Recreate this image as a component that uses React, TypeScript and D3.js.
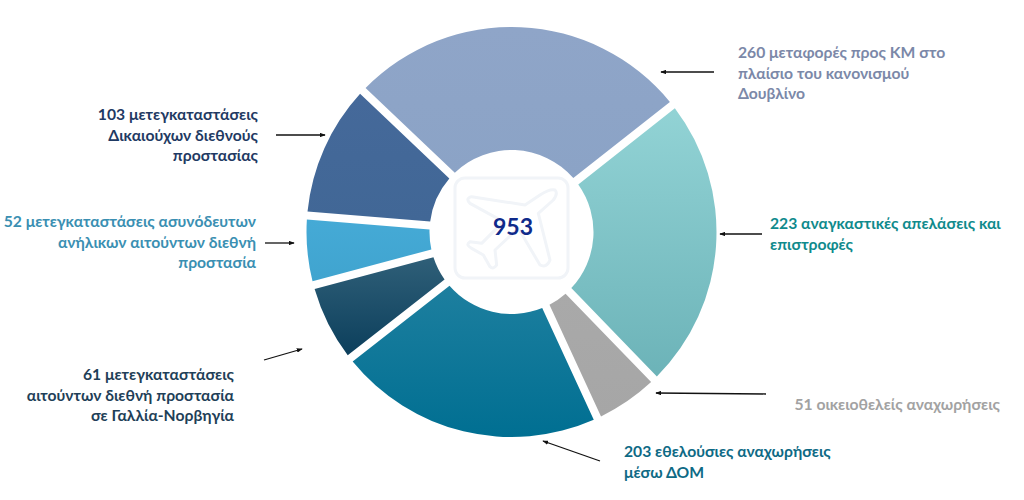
import * as d3 from "d3"

const WIDTH = 1024
const HEIGHT = 500

// Values, clockwise from the upper left slice
const values = [260, 223, 51, 203, 61, 52, 103]
const total = "953"
const labels = [
  ["260 μεταφορές προς ΚΜ στο", "πλαίσιο του κανονισμού", "Δουβλίνο"],
  ["223 αναγκαστικές απελάσεις και", "επιστροφές"],
  ["51 οικειοθελείς αναχωρήσεις"],
  ["203 εθελούσιες αναχωρήσεις", "μέσω ΔΟΜ"],
  ["61 μετεγκαταστάσεις", "αιτούντων διεθνή προστασία", "σε Γαλλία-Νορβηγία"],
  ["52 μετεγκαταστάσεις ασυνόδευτων", "ανήλικων αιτούντων διεθνή", "προστασία"],
  ["103 μετεγκαταστάσεις", "Δικαιούχων διεθνούς", "προστασίας"],
]

const gradientTop = ["#8fa5c8", "#92d3d5", "#a9a9a9", "#1d7f9f", "#2f5f78", "#45aad6", "#45699a"]
const gradientBottom = ["#8ba3c6", "#6cb3b8", "#a6a6a6", "#006f92", "#0c3f5c", "#40a4cf", "#416796"]
const textColors = ["#7b88a8", "#0f8a8c", "#a2a2a2", "#0e6a85", "#1f3f58", "#3a8fb2", "#1f3a63"]

// Label placement: anchor, x, first baseline
const labelPos: [string, number, number][] = [
  ["start", 738, 58],
  ["start", 770, 229],
  ["end", 1000, 410],
  ["start", 624, 457],
  ["end", 234, 380],
  ["end", 256, 227],
  ["end", 258, 120],
]
const arrows = [
  [714, 72, 661, 72],
  [762, 234, 720, 234],
  [766, 394, 656, 393],
  [600, 461, 543, 441],
  [264, 360, 302, 349],
  [265, 243, 294, 243],
  [276, 135, 325, 135],
]

const FONT = "Lato, 'Open Sans', sans-serif"
const cx = 511.5
const cy = 232
const outerR = 205
const innerR = 82
const startAngle = (-46.5 * Math.PI) / 180

export default function App() {
  const pie = d3
    .pie<number>()
    .value((d) => d)
    .sort(null)
    .startAngle(startAngle)
    .endAngle(startAngle + 2 * Math.PI)
  const arc = d3
    .arc<d3.PieArcDatum<number>>()
    .innerRadius(innerR)
    .outerRadius(outerR)
    .padRadius(outerR)
    .padAngle(8 / outerR)
  const arcs = pie(values)

  return (
    <svg
      width={WIDTH}
      height={HEIGHT}
      style={{ position: "absolute", left: 0, top: 0, background: "#fff" }}
    >
      <defs>
        {values.map((_, i) => (
          <linearGradient key={i} id={`slice-${i}`} x1="0" y1="0" x2="0" y2="1">
            <stop offset="0%" stopColor={gradientTop[i]} />
            <stop offset="100%" stopColor={gradientBottom[i]} />
          </linearGradient>
        ))}
        <marker id="head" viewBox="0 0 8 6" refX="7" refY="3" markerWidth="6" markerHeight="4.5" orient="auto" markerUnits="userSpaceOnUse">
          <path d="M0,0L8,3L0,6Z" fill="#111" />
        </marker>
      </defs>

      <g transform={`translate(${cx},${cy})`}>
        {arcs.map((d, i) => (
          <path key={i} d={arc(d) ?? ""} fill={`url(#slice-${i})`} />
        ))}
      </g>

      {/* faint plane icon behind the total */}
      <g fill="none" stroke="#f1f4f8" strokeWidth={3} strokeLinejoin="round">
        <rect x={455} y={178} width={113} height={100} rx={10} />
        <path
          transform="translate(430,160) scale(0.3333)"
          strokeWidth={9}
          d="M375,90Q385,100 370,120L325,160L360,300Q350,325 330,315L265,205L195,270L200,315Q190,330 180,320L160,285L125,265Q105,255 120,245L155,250L220,185L120,130Q105,115 125,110L285,135L330,105Q360,85 375,90Z"
        />
      </g>

      <text x={513} y={235} textAnchor="middle" fontFamily={FONT} fontWeight={700} fontSize={23} fill="#0f2a8a">
        {total}
      </text>

      {arrows.map(([x1, y1, x2, y2], i) => (
        <line key={i} x1={x1} y1={y1} x2={x2} y2={y2} stroke="#111" strokeWidth={1.3} markerEnd="url(#head)" />
      ))}

      {labels.map((lines, i) => {
        const [anchor, x, y] = labelPos[i]
        return (
          <text key={i} textAnchor={anchor as "start" | "end"} fontFamily={FONT} fontWeight={700} fontSize={15.7} fill={textColors[i]}>
            {lines.map((line, j) => (
              <tspan key={j} x={x} y={y + j * 20.5}>
                {line}
              </tspan>
            ))}
          </text>
        )
      })}
    </svg>
  )
}
